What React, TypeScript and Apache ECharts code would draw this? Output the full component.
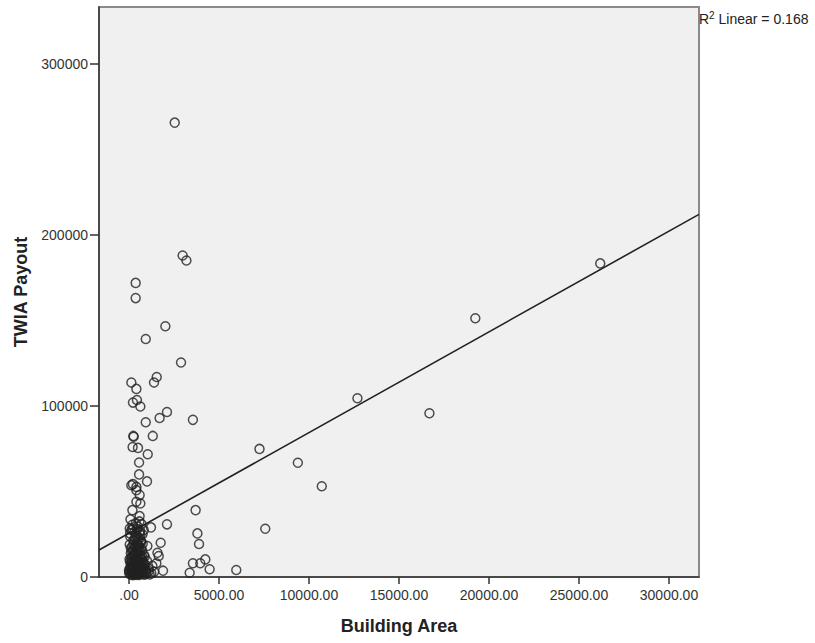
import React, { useEffect, useRef } from "react";
import * as echarts from "echarts";

// Building Area (x) and TWIA Payout (y)
const area: number[] = [
  2540, 2980, 3190, 370, 370, 2020, 930, 2890, 1540, 1390, 130, 410, 440, 220, 630, 2110, 1700, 3550, 930, 240, 260, 1320,
  200, 500, 1040, 560, 560, 1000, 220, 130, 410, 410, 590, 410, 630, 190, 590, 80, 1220, 2110, 3700, 3800, 3890, 1760,
  1580, 1650, 4240, 3550, 3960, 4480, 5960, 3370, 1520, 1890, 820, 40, 1020, 1240, 7250, 9380, 10710, 7570, 12690,
  16690, 19240, 26180,
  20, 60, 90, 110, 140, 160, 180, 200, 230, 250, 270, 290, 310, 330, 350, 370, 390, 410, 430, 450, 470, 490, 510, 530,
  550, 570, 590, 610, 630, 650, 670, 690, 710, 730, 750, 780, 800, 830, 860, 900, 950, 40, 70, 100, 130, 150, 170, 190,
  210, 240, 260, 280, 300, 320, 340, 360, 380, 400, 420, 440, 460, 480, 500, 520, 540, 560, 580, 600, 620, 640, 660,
  680, 700, 720, 760, 790, 850, 880, 920, 1000, 1080, 1150, 1300, 1400, 30, 700, 750,
  10, 80, 150, 220, 290, 360, 430, 500, 570, 640, 710, 50, 120, 190, 260, 330, 400, 470, 540, 610, 680, 100, 170, 240,
  310, 380, 450, 520, 590, 660, 730, 0, 140, 280, 420, 560, 700, 820, 960, 1100, 60, 200, 340, 480, 620,
];
const payout: number[] = [
  265700, 188000, 185100, 172000, 163100, 146600, 139200, 125400, 117000, 113700, 113700, 110000, 103500, 102000, 99700,
  96500, 93000, 91900, 90500, 82500, 82000, 82500, 76000, 75500, 71800, 67000, 60000, 55900, 54300, 53700, 52700, 50800,
  47900, 44000, 43000, 39100, 35600, 33700, 29000, 30800, 39100, 25500, 19300, 20000, 14200, 12300, 10300, 8000, 8000,
  4500, 4100, 2500, 8000, 3700, 27400, 28400, 18100, 2200, 74900, 66800, 53100, 28200, 104500, 95800, 151300, 183400,
  2000, 5000, 1500, 8000, 3500, 12000, 2500, 6500, 16000, 4000, 9500, 1800, 21000, 7000, 3000, 13500, 5500, 24000, 2200,
  10500, 18500, 4500, 7800, 1600, 14500, 3300, 26000, 6000, 11500, 2800, 20500, 8800, 4200, 15500, 2000, 9000, 5200,
  12800, 3000, 7200, 1800, 19000, 23500, 14000, 27500, 9000, 17500, 30500, 1000, 21500, 6800, 12500, 26500, 3800, 18000,
  8500, 31500, 1200, 15000, 6200, 28000, 11000, 22000, 3600, 17000, 9800, 32500, 1900, 13000, 24500, 5600, 16800, 2600,
  10200, 19500, 6600, 1400, 11800, 4000, 9500, 5000, 1500, 6500, 3000, 10500, 31000, 25000,
  3000, 6000, 4500, 1500, 7500, 2500, 5800, 3800, 1200, 6800, 3400, 9000, 11000, 8200, 12500, 10000, 7200, 13000, 9600,
  11800, 6200, 17000, 15000, 19000, 14200, 16800, 20000, 18200, 22500, 21000, 12000, 4000, 2800, 5200, 1900, 4800, 6000,
  8000, 2600, 3500, 25500, 28000, 23000, 29500, 27000,
];

// Linear fit
const fitIntercept = 25570;
const fitSlope = 5.89;
const xMin = -1666.67;
const xMax = 31666.67;
const yMax = 333333;
const xTicks = [0, 5000, 10000, 15000, 20000, 25000, 30000];
const yTicks = [0, 100000, 200000, 300000];

export default function App() {
  const ref = useRef<HTMLDivElement>(null);
  useEffect(() => {
    if (!ref.current) return;
    const chart = echarts.init(ref.current, null, { renderer: "svg" });
    const pts = area.map((x, i) => [x, payout[i]]);
    const fit = [xMin, xMax].map((x) => [x, fitIntercept + fitSlope * x]);
    const font = "'Liberation Sans', Arial, sans-serif";
    chart.setOption({
      animation: false,
      textStyle: { fontFamily: font },
      grid: {
        left: 99,
        top: 7,
        right: 116,
        bottom: 66,
        show: true,
        backgroundColor: "#f0f0f0",
        borderColor: "#8a8a8a",
        borderWidth: 2,
      },
      xAxis: {
        type: "value",
        min: xMin,
        max: xMax,
        name: "Building Area",
        nameLocation: "middle",
        nameGap: 40,
        nameTextStyle: { fontSize: 18, fontWeight: "bold", color: "#222", fontFamily: font },
        axisLine: { show: true, onZero: false, lineStyle: { color: "#333", width: 1.5 } },
        axisTick: { show: true, length: 7, customValues: xTicks, lineStyle: { color: "#333", width: 1.5 } },
        axisLabel: {
          customValues: xTicks,
          fontSize: 14,
          color: "#333",
          margin: 11,
          fontFamily: font,
          formatter: (v: number) => (v === 0 ? ".00" : v.toFixed(2)),
        },
        splitLine: { show: false },
      },
      yAxis: {
        type: "value",
        min: 0,
        max: yMax,
        name: "TWIA Payout",
        nameLocation: "middle",
        nameGap: 68,
        nameTextStyle: { fontSize: 18, fontWeight: "bold", color: "#222", fontFamily: font },
        axisLine: { show: true, onZero: false, lineStyle: { color: "#333", width: 1.5 } },
        axisTick: { show: true, length: 9, customValues: yTicks, lineStyle: { color: "#333", width: 1.5 } },
        axisLabel: {
          customValues: yTicks,
          fontSize: 14,
          color: "#333",
          margin: 11,
          fontFamily: font,
          formatter: (v: number) => String(v),
        },
        splitLine: { show: false },
      },
      series: [
        {
          type: "scatter",
          data: pts,
          symbol: "circle",
          symbolSize: 9,
          itemStyle: { color: "rgba(0,0,0,0)", borderColor: "#222", borderWidth: 1.5 },
          z: 3,
        },
        {
          type: "line",
          data: fit,
          symbol: "none",
          lineStyle: { color: "#222", width: 1.6 },
          z: 2,
        },
      ],
      graphic: [
        {
          type: "text",
          left: 699,
          top: 10,
          style: {
            text: "{a|R}{s|2}{a| Linear = 0.168}",
            rich: {
              a: { fontSize: 14, fill: "#222", fontFamily: font, verticalAlign: "bottom", lineHeight: 16 },
              s: { fontSize: 10, fill: "#222", fontFamily: font, verticalAlign: "top", lineHeight: 16 },
            },
          },
        },
      ],
    });
    return () => chart.dispose();
  }, []);
  return <div ref={ref} style={{ width: 815, height: 643, position: "absolute", left: 0, top: 0 }} />;
}
